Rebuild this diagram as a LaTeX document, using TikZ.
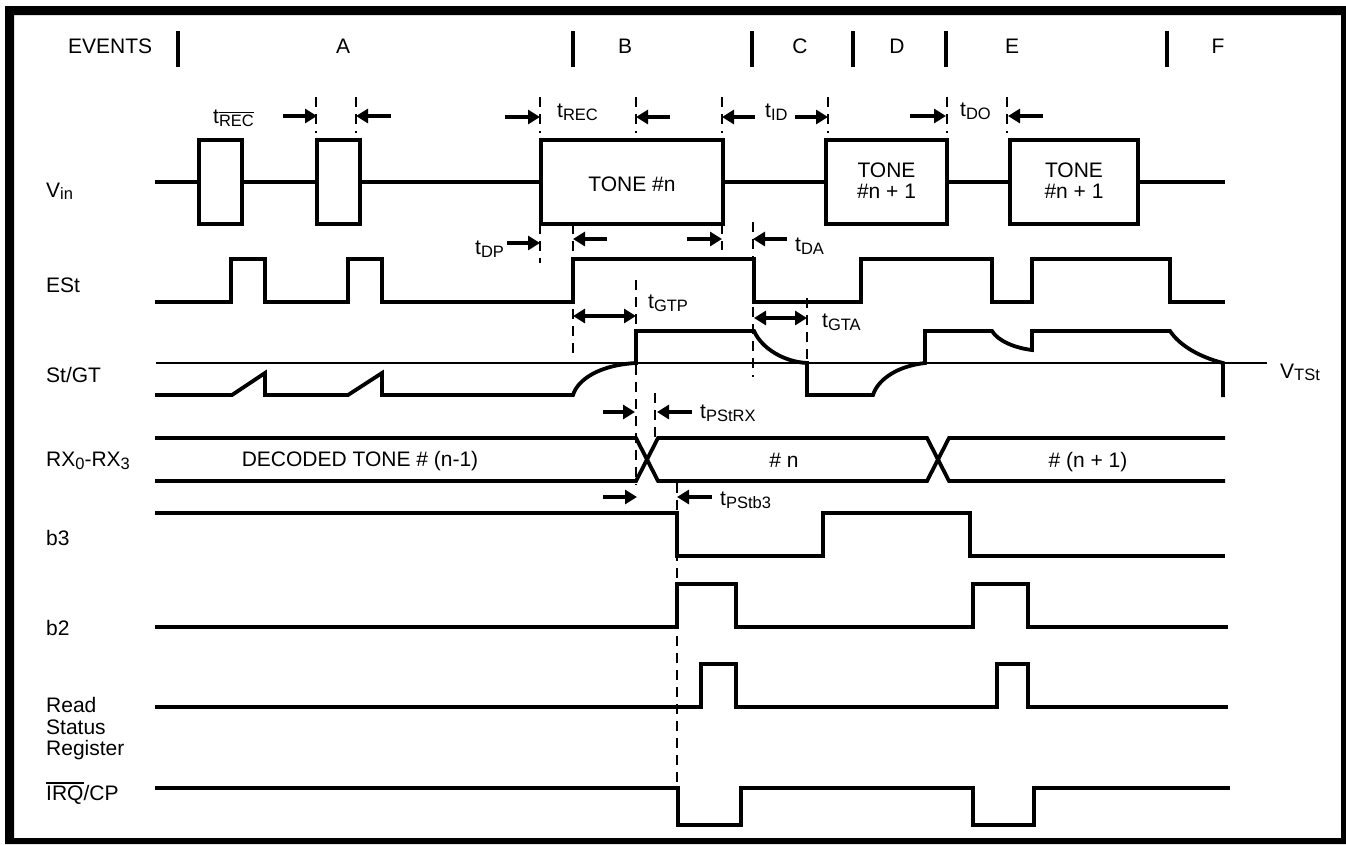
\documentclass[tikz,border=0pt]{standalone}
\usepackage{fontspec}
\setmainfont{Liberation Sans}
\usetikzlibrary{arrows.meta}
\newcommand{\sbs}[1]{\raisebox{-3.5pt}{\fontsize{16.5}{16.5}\selectfont #1}}
\newcommand{\ovl}[1]{\vbox{\hrule height 1.3pt\kern 1.8pt\hbox{#1}}}
\begin{document}
\begin{tikzpicture}[x=1pt,y=-1pt,
  wave/.style={line width=3.8pt, line join=miter},
  thinline/.style={line width=1.3pt},
  dsh/.style={line width=1.4pt, dash pattern=on 10pt off 7pt},
  dimarrow/.style={line width=3.8pt, -{Triangle[length=12pt,width=14pt]}},
  dimboth/.style={line width=3.8pt, {Triangle[length=12pt,width=14pt]}-{Triangle[length=12pt,width=14pt]}},
  lbl/.style={inner sep=0pt, anchor=base west, font=\fontsize{21}{21}\selectfont},
  ctr/.style={inner sep=0pt, anchor=base, font=\fontsize{21}{21}\selectfont},
  tbox/.style={draw, line width=3.8pt, inner sep=0pt, minimum height=84pt},
  evbar/.style={line width=4pt}
]
\useasboundingbox (0,0) rectangle (1346,844);
\fill[white] (0,0) rectangle (1346,844);
\fill[black, even odd rule] (5,6) rectangle (1346,844) (14,15) rectangle (1341,838);

% events row
\node[lbl] (ev) at (68,53) {EVENTS};
\foreach \x/\n in {178/b1,573/b2,752/b3,853/b4,946/b5,1167/b6}{
  \coordinate (\n t) at (\x,31); \coordinate (\n b) at (\x,67);
  \draw[evbar] (\n t) -- (\n b);
}
\node[ctr] (eA) at (343,53) {A};
\node[ctr] (eB) at (625,53) {B};
\node[ctr] (eC) at (800,53) {C};
\node[ctr] (eD) at (897,53) {D};
\node[ctr] (eE) at (1012,53) {E};
\node[ctr] (eF) at (1218,53) {F};

% signal names
\node[lbl] (nvin) at (46,197) {V\raisebox{-2pt}{\fontsize{16.5}{16.5}\selectfont in}};
\node[lbl] (nest) at (46,292) {ESt};
\node[lbl] (nst) at (46,382) {St/GT};
\node[lbl] (nrx) at (46,466) {RX\sbs{0}-RX\sbs{3}};
\node[lbl] (nb3) at (46,545) {b3};
\node[lbl] (nb2) at (46,635) {b2};
\node[lbl] (nr1) at (46,712) {Read};
\node[lbl] (nr2) at (46,734) {Status};
\node[lbl] (nr3) at (46,755) {Register};
\node[lbl] (nirq) at (46,800) {\ovl{IRQ}/CP};

% Vin
\node[tbox, minimum width=43pt] (p1) at (220.5,182) {};
\node[tbox, minimum width=43pt] (p2) at (338.5,182) {};
\node[tbox, minimum width=182pt] (tn) at (632,182) {};
\node[tbox, minimum width=121pt] (tn1) at (886.5,182) {};
\node[tbox, minimum width=128pt] (tn2) at (1074,182) {};
\coordinate (vs) at (155,182);
\coordinate (ve) at (1225,182);
\draw[wave] (vs) -- (p1.west) (p1.east) -- (p2.west) (p2.east) -- (tn.west)
  (tn.east) -- (tn1.west) (tn1.east) -- (tn2.west) (tn2.east) -- (ve);
\node[ctr] (tnt) at (632,191) {TONE \#n};
\node[ctr] (tn1a) at (886.5,177) {TONE};
\node[ctr] (tn1b) at (886.5,198) {\#n + 1};
\node[ctr] (tn2a) at (1074,177) {TONE};
\node[ctr] (tn2b) at (1074,198) {\#n + 1};

% ESt
\draw[wave] (155,302) -- (231,302) -- (231,259) -- (265,259) -- (265,302) -- (348,302)
  -- (348,259) -- (382,259) -- (382,302) -- (573,302) -- (573,259) -- (754,259)
  -- (754,302) -- (861,302) -- (861,259) -- (992,259) -- (992,302) -- (1032,302)
  -- (1032,259) -- (1170,259) -- (1170,302) -- (1225,302);

% St/GT threshold
\coordinate (th1) at (156,363); \coordinate (th2) at (1267,363);
\draw[thinline] (th1) -- (th2);
\node[lbl] (lvtst) at (1280,378) {V\raisebox{-2pt}{\fontsize{16.5}{16.5}\selectfont TSt}};
\draw[wave] (155,395) -- (232,395) -- (265,373) -- (265,395) -- (348,395) -- (382,373)
  -- (382,395) -- (573,395) .. controls (578,379) and (600,365) .. (636,363)
  -- (636,331) -- (754,331) .. controls (762,349) and (785,362) .. (807,363)
  -- (807,395) -- (873,395) .. controls (878,379) and (898,366) .. (925,363)
  -- (925,331) -- (992,331) .. controls (998,341) and (1015,348) .. (1032,350)
  -- (1032,331) -- (1170,331) .. controls (1180,346) and (1200,357) .. (1223,363)
  -- (1223,397);

% RX
\draw[wave] (155,438) -- (636,438) -- (658,481) -- (927,481) -- (949,438) -- (1225,438);
\draw[wave] (155,481) -- (636,481) -- (658,438) -- (927,438) -- (949,481) -- (1225,481);
\node[ctr] (rx1) at (360,466) {DECODED TONE \# (n-1)};
\node[ctr] (rx2) at (784,467) {\# n};
\node[ctr] (rx3) at (1088,467) {\# (n + 1)};

% b3, b2, read, irq
\draw[wave] (155,513) -- (677,513) -- (677,556) -- (823,556) -- (823,513) -- (970,513)
  -- (970,556) -- (1225,556);
\draw[wave] (155,627) -- (677,627) -- (677,584) -- (736,584) -- (736,627) -- (973,627)
  -- (973,584) -- (1028,584) -- (1028,627) -- (1228,627);
\draw[wave] (155,707) -- (701,707) -- (701,664) -- (736,664) -- (736,707) -- (997,707)
  -- (997,664) -- (1028,664) -- (1028,707) -- (1228,707);
\draw[wave] (155,788) -- (678,788) -- (678,825) -- (741,825) -- (741,788) -- (973,788)
  -- (973,825) -- (1034,825) -- (1034,788) -- (1230,788);

% dashed guides
\foreach \x in {316,356,540,636,722,828,947,1007}{\draw[dsh] (\x,97) -- (\x,133);}
\draw[dsh] (540,224) -- (540,263);
\draw[dsh] (573,224) -- (573,357);
\draw[dsh] (722,224) -- (722,250);
\draw[dsh] (753,222) -- (753,377);
\draw[dsh] (636,280) -- (636,485);
\draw[dsh] (807,298) -- (807,363);
\draw[dsh] (655,393) -- (655,440);
\draw[dsh] (677,483) -- (677,787);

% timing arrows
\draw[dimarrow] (283,116) -- (317,116);
\draw[dimarrow] (391,116) -- (356,116);
\draw[dimarrow] (505,117) -- (540,117);
\draw[dimarrow] (670,117) -- (636,117);
\draw[dimarrow] (755,117) -- (722,117);
\draw[dimarrow] (795,117) -- (828,117);
\draw[dimarrow] (910,116) -- (946,116);
\draw[dimarrow] (1043,116) -- (1008,116);
\draw[dimarrow] (507,243) -- (540,243);
\draw[dimarrow] (607,239) -- (573,239);
\draw[dimarrow] (687,239) -- (722,239);
\draw[dimarrow] (787,239) -- (753,239);
\draw[dimboth] (573,316) -- (636,316);
\draw[dimboth] (754,318) -- (807,318);
\draw[dimarrow] (603,412) -- (635,412);
\draw[dimarrow] (692,412) -- (657,412);
\draw[dimarrow] (603,497) -- (637,497);
\draw[dimarrow] (712,497) -- (677,497);

% timing labels
\node[lbl] (lrecb) at (213,123) {t\sbs{\ovl{REC}}};
\node[lbl] (lrec) at (557,117) {t\sbs{REC}};
\node[lbl] (lid) at (765,117) {t\sbs{ID}};
\node[lbl] (ldo) at (960,116) {t\sbs{DO}};
\node[lbl] (ldp) at (475,254) {t\sbs{DP}};
\node[lbl] (lda) at (795,251) {t\sbs{DA}};
\node[lbl] (lgtp) at (648,308) {t\sbs{GTP}};
\node[lbl] (lgta) at (822,327) {t\sbs{GTA}};
\node[lbl] (lpstrx) at (700,418) {t\sbs{PStRX}};
\node[lbl] (lpstb3) at (720,505) {t\sbs{PStb3}};
\end{tikzpicture}
\end{document}
